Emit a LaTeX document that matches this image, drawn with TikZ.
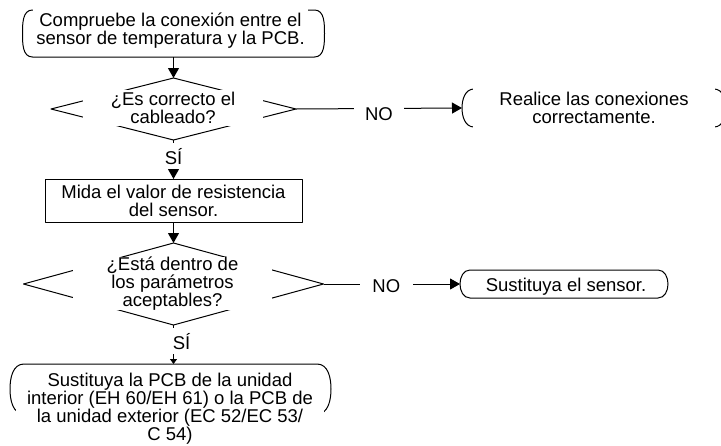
\documentclass[tikz,border=0pt]{standalone}
\usepackage{fontspec}
\setmainfont{Liberation Sans}
\usetikzlibrary{arrows.meta,shapes.geometric}
%contorno de los terminales
\newcommand{\termino}[2]{%
	\draw ([xshift=#2]#1.north west) -- ([xshift=-#2]#1.north east)
	to[out=0,in=90] (#1.east) to[out=-90,in=0] ([xshift=-#2]#1.south east)
	-- ([xshift=#2]#1.south west) to[out=180,in=-90] (#1.west)
	to[out=90,in=180] cycle;}
\begin{document}
\begin{tikzpicture}[x=1pt, y=-1pt, line width=1pt, line join=round, font=\fontsize{18.5}{18}\selectfont,
	>={Triangle[length=10pt,width=11pt]},
	caja/.style={inner sep=0pt, align=center},
	tapa/.style={caja, fill=white},
	forma/.style={inner sep=0pt, outer sep=0pt},
	rombo/.style={forma, draw, diamond},
	etiq/.style={fill=white, inner sep=0pt, minimum width=30pt, minimum height=26pt}]
	\useasboundingbox (0,0) rectangle (721,445);
	\def\xc{173.5} %eje central
	%formas
	\node[forma, minimum width=302pt, minimum height=47pt] (t1s) at (\xc,33.5) {};
	\node[rombo, minimum width=245pt, minimum height=62pt] (d1s) at (\xc,109) {};
	\node[caja, draw, outer sep=0pt, minimum width=257pt, minimum height=43pt] (m1) at (\xc,200.5) {Mida el valor de resistencia\\del sensor.};
	\node[rombo, minimum width=300pt, minimum height=82pt] (d2s) at (\xc,284) {};
	\node[forma, minimum width=264pt, minimum height=38pt] (t2s) at (594,108) {};
	\node[forma, minimum width=208pt, minimum height=28pt] (t3s) at (564,284) {};
	\node[forma, minimum width=321pt, minimum height=50pt] (t4s) at (170.5,389) {};
	\termino{t1s}{10pt}
	\termino{t2s}{12pt}
	\termino{t3s}{10pt}
	\termino{t4s}{14pt}
	%textos
	\node[tapa, minimum width=275pt, minimum height=48pt] (t1) at (170.5,31) {Compruebe la conexión entre el\\sensor de temperatura y la PCB.};
	\node[tapa, minimum width=180pt, minimum height=36pt] (q1) at (173,108) {¿Es correcto el\\cableado?};
	\node[tapa, minimum width=199pt, minimum height=53pt] (q2) at (172.5,283.5) {¿Está dentro de\\los parámetros\\aceptables?};
	\node[tapa, minimum width=242pt, minimum height=42pt] (t2) at (594,108) {Realice las conexiones\\correctamente.};
	\node[caja] (t3) at (566,287) {Sustituya el sensor.};
	\node[tapa, minimum width=308pt, minimum height=76pt] (t4) at (170,409) {Sustituya la PCB de la unidad\\interior (EH 60/EH 61) o la PCB de\\la unidad exterior (EC 52/EC 53/\\C 54)};
	%flechas
	\draw[->] (t1s.south) -- (d1s.north);
	\draw[->] (d1s.south) -- node[etiq, pos=0.42] {SÍ} (m1.north);
	\draw[->] (m1.south) -- (d2s.north);
	\draw[-{Triangle[length=5pt,width=7pt]}] (d2s.south) -- node[etiq, pos=0.42, xshift=8pt] {SÍ} (d2s.south |- t4s.north);
	\draw[->] (d1s.east) -- node[etiq, minimum width=50pt, yshift=-6pt] {NO} (t2s.west);
	\draw[->] (d2s.east) -- node[etiq, minimum width=53pt, pos=0.46, yshift=-2pt] {NO} (t3s.west);
\end{tikzpicture}
\end{document}
